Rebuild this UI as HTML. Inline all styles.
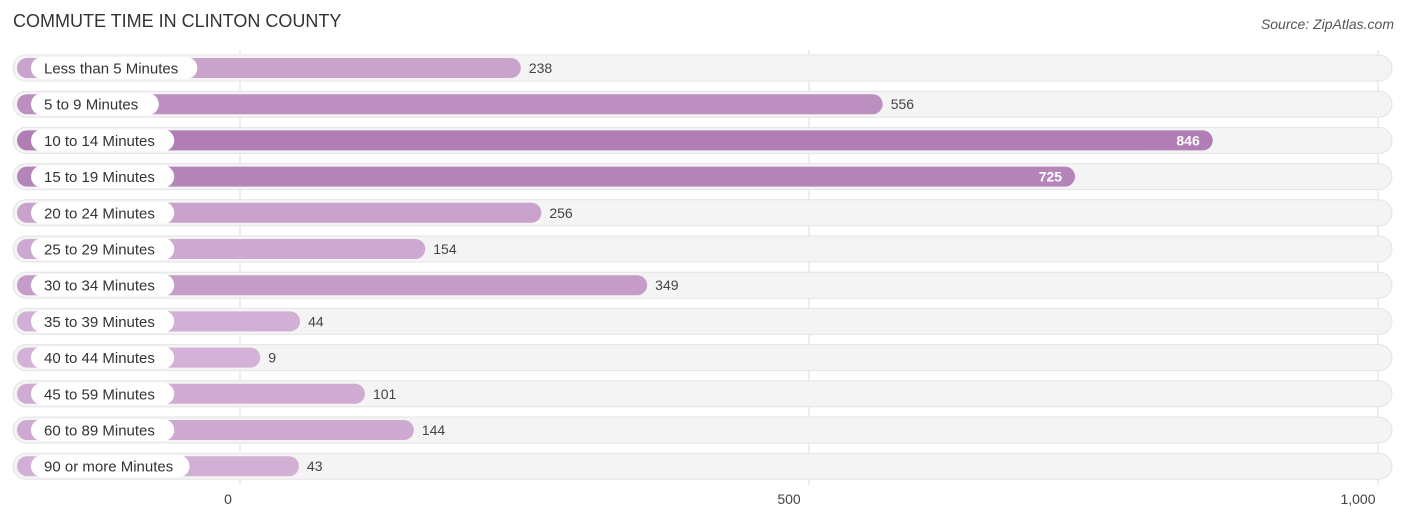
<!DOCTYPE html>
<html><head><meta charset="utf-8"><style>
body{margin:0;width:1406px;height:523px;background:#fff;font-family:"Liberation Sans",sans-serif;position:relative;overflow:hidden}
.t{position:absolute;left:13px;top:11px;font-size:18px;color:#333}
.s{position:absolute;right:12px;top:16px;font-size:14px;color:#555;font-style:italic}
</style></head><body>
<div class="t">COMMUTE TIME IN CLINTON COUNTY</div>
<div class="s">Source: ZipAtlas.com</div>
<svg id="c" width="1406" height="523" style="position:absolute;left:0;top:0"></svg>
<script>
const categories=["Less than 5 Minutes","5 to 9 Minutes","10 to 14 Minutes","15 to 19 Minutes","20 to 24 Minutes","25 to 29 Minutes","30 to 34 Minutes","35 to 39 Minutes","40 to 44 Minutes","45 to 59 Minutes","60 to 89 Minutes","90 or more Minutes"];
const values=[238,556,846,725,256,154,349,44,9,101,144,43];
const ticks=[0,500,1000];
const tickLabels=["0","500","1,000"];
const NS="http://www.w3.org/2000/svg";
const svg=document.getElementById('c');
const x=v=>240+v*1.138;
const y=i=>68+i*36.2;
function mk(t,a){const e=document.createElementNS(NS,t);for(const k in a)e.setAttribute(k,a[k]);svg.appendChild(e);return e;}
ticks.forEach((t,i)=>{
 const l=mk('line',{x1:x(t),x2:x(t),y1:50,y2:485,stroke:'#ddd','stroke-width':1});
 
 
 const tx=mk('text',{x:x(t)-(i==2?20:(i==1?20:12)),y:504,'font-size':14,fill:'#444','text-anchor':'middle'});
 tx.textContent=tickLabels[i];
 
 
});
const max=Math.max(...values);
values.forEach((v,i)=>{
 const cy=y(i);
 const tr=mk('rect',{x:13,y:cy-13,width:1379,height:26,rx:13,fill:'#f4f4f4',stroke:'#e4e4e4'});
 
 
 const f=v/max;
 const col=`rgb(${Math.round(212-36*f)},${Math.round(178-53*f)},${Math.round(214-33*f)})`;
 const b=mk('rect',{x:17,y:cy-10,width:x(v)+10-17,height:20,rx:10,fill:col});
 
 
 const lw=categories[i].length*7.7+20;
 const p=mk('rect',{x:31,y:cy-11,width:lw,height:22,rx:11,fill:'#fff'});
 
 
 const lt=mk('text',{x:44,y:cy+5.5,'font-size':15,fill:'#333'});
 lt.textContent=categories[i];
 
 
 const inside=v>600;
 const vt=mk('text',{x:inside?x(v)-3:x(v)+18,y:cy+5,'font-size':14,fill:inside?'#fff':'#444','text-anchor':inside?'end':'start','font-weight':inside?'bold':'normal'});
 vt.textContent=v;
 
 
});
</script>
</body></html>
